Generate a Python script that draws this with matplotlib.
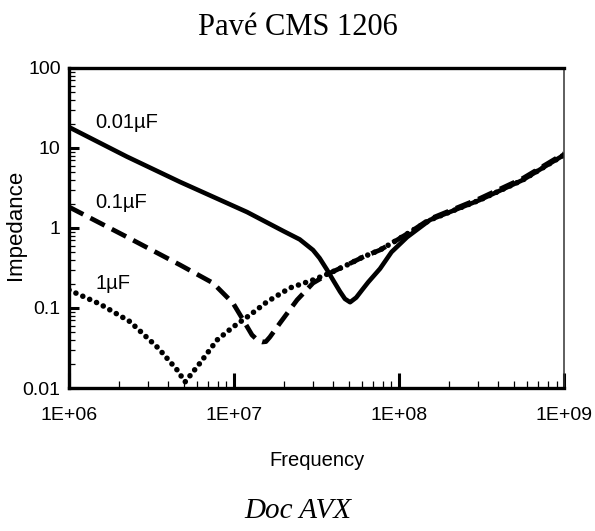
import matplotlib
matplotlib.use('Agg')
import matplotlib.pyplot as plt
from matplotlib.ticker import LogLocator, NullFormatter, FixedLocator

# values (frequency in Hz, impedance in ohm)
freq_001 = [1e6, 2.24e6, 4.71e6, 1.2e7, 2.0e7, 2.5e7, 3.01e7, 3.3e7, 3.66e7,
            4.0e7, 4.39e7, 4.7e7, 5.05e7, 5.5e7, 5.97e7, 6.5e7, 7.67e7, 9.0e7,
            1.12e8, 1.54e8, 3.09e8, 5.62e8, 1e9]
imp_001 = [18.2, 7.8, 3.76, 1.58, 0.91, 0.72, 0.53, 0.42, 0.30,
           0.22, 0.16, 0.13, 0.118, 0.135, 0.168, 0.21, 0.31, 0.50,
           0.77, 1.26, 2.24, 3.98, 8.2]

freq_01 = [1e6, 2.25e6, 4.71e6, 7.46e6, 9.86e6, 1.135e7, 1.285e7, 1.4e7, 1.48e7,
           1.56e7, 1.65e7, 1.9e7, 2.41e7, 3.01e7, 3.82e7, 4.84e7, 6.05e7, 7.67e7,
           9.73e7, 1.22e8, 1.54e8, 3.09e8, 5.62e8, 1e9]
imp_01 = [1.83, 0.77, 0.345, 0.205, 0.115, 0.071, 0.046, 0.039, 0.0376,
          0.038, 0.0434, 0.065, 0.126, 0.205, 0.274, 0.345, 0.434, 0.531,
          0.708, 0.944, 1.30, 2.34, 4.17, 8.5]

freq_1 = [1e6, 1.54e6, 2.34e6, 3.47e6, 4.52e6, 5.05e6, 6.22e6, 7.89e6, 9.86e6,
          1.25e7, 1.58e7, 2.18e7, 3.01e7, 3.82e7, 4.84e7, 6.05e7, 7.67e7, 9.73e7,
          1.22e8, 1.54e8, 3.09e8, 5.62e8, 1e9]
imp_1 = [0.168, 0.112, 0.0676, 0.0316, 0.0168, 0.0119, 0.0205, 0.0398, 0.0579,
         0.0818, 0.119, 0.178, 0.224, 0.274, 0.345, 0.434, 0.531, 0.708,
         0.944, 1.26, 2.24, 3.98, 8.2]

x_ticks = [1e6, 1e7, 1e8, 1e9]
x_labels = ['1E+06', '1E+07', '1E+08', '1E+09']
y_ticks = [0.01, 0.1, 1, 10, 100]
y_labels = ['0.01', '0.1', '1', '10', '100']

sans = ['Liberation Sans', 'DejaVu Sans']
serif = ['Liberation Serif', 'DejaVu Serif']

fig = plt.figure(figsize=(5.95, 5.31), dpi=100)
ax = fig.add_axes([0.116, 0.2693, 0.832, 0.6027])

ax.plot(freq_001, imp_001, color='black', lw=3.3, solid_capstyle='round',
        solid_joinstyle='round')
ax.plot(freq_01, imp_01, color='black', lw=3.4, linestyle=(0, (3.4, 1.7)),
        dash_capstyle='butt')
ax.plot(freq_1, imp_1, color='black', lw=4.0, linestyle=(0, (0.01, 1.35)),
        dash_capstyle='round')

ax.set_xscale('log')
ax.set_yscale('log')
ax.set_xlim(1e6, 1e9)
ax.set_ylim(0.01, 100)

ax.xaxis.set_major_locator(FixedLocator(x_ticks))
ax.set_xticklabels(x_labels, family=sans, fontsize=14)
ax.yaxis.set_major_locator(FixedLocator(y_ticks))
ax.set_yticklabels(y_labels, family=sans, fontsize=14)
ax.xaxis.set_minor_locator(LogLocator(base=10, subs=range(2, 10), numticks=20))
ax.yaxis.set_minor_locator(LogLocator(base=10, subs=range(2, 10), numticks=20))
ax.xaxis.set_minor_formatter(NullFormatter())
ax.yaxis.set_minor_formatter(NullFormatter())

ax.tick_params(axis='x', which='major', direction='in', length=11, width=2.2, pad=14)
ax.tick_params(axis='x', which='minor', direction='in', length=5, width=0.9)
ax.tick_params(axis='y', which='major', direction='in', length=7.5, width=2.2, pad=6)
ax.tick_params(axis='y', which='minor', direction='in', length=4.5, width=0.9)

for side in ['left', 'top', 'bottom']:
    ax.spines[side].set_linewidth(2.4)
ax.spines['right'].set_linewidth(1.1)
ax.spines['right'].set_color('#333333')

ax.set_xlabel('Frequency', family=sans, fontsize=14.5)
ax.xaxis.set_label_coords(0.5, -0.196)
ax.set_ylabel('Impedance', family=sans, fontsize=16)
ax.yaxis.set_label_coords(-0.086, 0.51)

ax.text(0.053, 0.831, '0.01µF', transform=ax.transAxes, family=sans,
        fontsize=14.5, ha='left', va='center')
ax.text(0.053, 0.581, '0.1µF', transform=ax.transAxes, family=sans,
        fontsize=14.5, ha='left', va='center')
ax.text(0.053, 0.328, '1µF', transform=ax.transAxes, family=sans,
        fontsize=14.5, ha='left', va='center')

fig.text(0.5, 0.949, 'Pavé CMS 1206', family=serif, fontsize=22,
         ha='center', va='center')
fig.text(0.5, 0.038, 'Doc AVX', family=serif, style='italic', fontsize=21,
         ha='center', va='center')

fig.savefig('out.png', dpi=100)
